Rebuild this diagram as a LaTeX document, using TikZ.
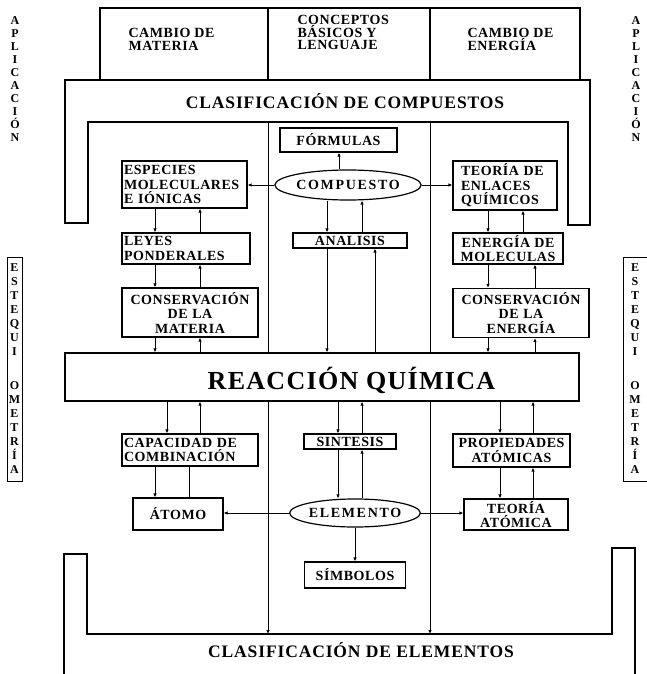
\documentclass[tikz,border=0pt]{standalone}
\usepackage{fontspec}
\setmainfont{Liberation Serif}
\newfontfamily\boxfont{Liberation Serif}[LetterSpace=4]
\newfontfamily\ovalfont{Liberation Serif}[LetterSpace=12]
\newfontfamily\titlefont{Liberation Serif}[LetterSpace=5]
\usetikzlibrary{shapes.geometric,arrows.meta}

\begin{document}
\begin{tikzpicture}[x=1pt,y=-1pt,line width=1pt,
  cbox/.style={draw,line width=1.2pt,fill=white,inner sep=2pt,
               font=\boxfont\bfseries\fontsize{14}{14.5}\selectfont},
  oval/.style={draw,ellipse,line width=1.2pt,fill=white,inner sep=0pt,
               font=\ovalfont\bfseries\fontsize{14}{14.5}\selectfont},
  band/.style={draw,line width=1.3pt},
  tag/.style={font=\boxfont\bfseries\fontsize{14}{12.5}\selectfont,
              align=left,anchor=north west,inner sep=0pt},
  ttl/.style={font=\titlefont\bfseries\fontsize{17.5}{20}\selectfont,inner sep=0pt},
  vtxt/.style={font=\bfseries\fontsize{12}{13}\selectfont,align=center,inner sep=0pt},
  stq/.style={draw,line width=1pt,align=center,inner sep=0pt,minimum height=224,
              font=\bfseries\fontsize{12}{14}\selectfont},
  arrw/.style={-{Latex[length=4pt,width=3.5pt]}}]
\useasboundingbox (0,0) rectangle (647,674);

% header row
\draw[band] (100,8) rectangle (580,80);
\draw[band] (268,8) -- (268,80) (430,8) -- (430,80);
\node[tag] (cmat) at (128,28) {CAMBIO DE\\MATERIA};
\node[tag] (conc) at (297,15) {CONCEPTOS\\BÁSICOS Y\\LENGUAJE};
\node[tag] (cene) at (467,28) {CAMBIO DE\\ENERGÍA};

% the two classification bands
\draw[band] (65,223) -- (65,80) -- (590,80) -- (590,225) -- (568,225)
  -- (568,122) -- (88,122) -- (88,223) -- cycle;
\node[ttl] (ccomp) at (345,101) {CLASIFICACIÓN DE COMPUESTOS};
\draw[band] (64,674) -- (64,554) -- (87,554) -- (87,634) -- (612,634)
  -- (612,548) -- (635,548) -- (635,674);
\node[ttl] (celem) at (361,650) {CLASIFICACIÓN DE ELEMENTOS};

% side labels
\node[vtxt] (aplizq) at (15,79) {A\\P\\L\\I\\C\\A\\C\\I\\Ó\\N};
\node[vtxt] (aplder) at (636,79) {A\\P\\L\\I\\C\\A\\C\\I\\Ó\\N};
\node[stq,minimum width=15] (estizq) at (14.5,369)
  {E\\S\\T\\E\\Q\\U\\I\\[20pt]O\\M\\E\\T\\R\\Í\\A};
\node[stq,minimum width=24] (estder) at (635,369)
  {E\\S\\T\\E\\Q\\U\\I\\[20pt]O\\M\\E\\T\\R\\Í\\A};

% columns
\coordinate (ctop) at (0,122);
\coordinate (cbot) at (0,634);
\coordinate (va) at (268,0);
\coordinate (vb) at (430,0);
\coordinate (l1) at (155,0);
\coordinate (l2) at (200,0);
\coordinate (l3) at (167,0);
\coordinate (l4) at (189,0);
\coordinate (m1) at (327,0);
\coordinate (m2) at (362,0);
\coordinate (m3) at (375,0);
\coordinate (m4) at (338,0);
\coordinate (m5) at (339,0);
\coordinate (r1) at (488,0);
\coordinate (r2) at (523,0);
\coordinate (r3) at (535,0);
\coordinate (r4) at (500,0);
\coordinate (r5) at (533,0);
\draw[arrw] (va |- ctop) -- (va |- cbot);
\draw[arrw] (vb |- ctop) -- (vb |- cbot);

% nodes
\node[cbox,minimum width=117,minimum height=24] (formulas) at (338.5,140) {FÓRMULAS};
\node[oval,minimum width=140,minimum height=30] (compuesto) at (348,185) {COMPUESTO};
\node[cbox,align=left,text width=121,minimum height=47] (especies) at (184.5,184.5)
  {ESPECIES\\MOLECULARES\\E IÓNICAS};
\node[cbox,align=left,inner xsep=8pt,text width=88,minimum height=49] (teoriaenl) at (505,185.5)
  {TEORÍA DE\\ENLACES\\QUÍMICOS};
\node[cbox,minimum width=114,minimum height=15,inner ysep=1pt] (analisis) at (350,240.5) {ANALISIS};
\node[cbox,align=left,text width=124,minimum height=31] (leyes) at (186,248.5) {LEYES\\PONDERALES};
\node[cbox,align=center,minimum width=110,minimum height=31] (energia) at (508,248.5)
  {ENERGÍA DE\\MOLECULAS};
\node[cbox,align=center,text width=132,minimum height=49] (consmat) at (190,312.5)
  {CONSERVACIÓN\\DE LA\\MATERIA};
\node[cbox,align=center,text width=132,minimum height=49] (consen) at (521,313)
  {CONSERVACIÓN\\DE LA\\ENERGÍA};
\node[cbox,minimum width=514,minimum height=48] (reaccion) at (322,377) {};
\node[font=\titlefont\bfseries\fontsize{26}{30}\selectfont,inner sep=0pt] (reacttl) at (351.5,380)
  {REACCIÓN QUÍMICA};
\node[cbox,align=left,text width=132,minimum height=32] (capacidad) at (190,450)
  {CAPACIDAD DE\\COMBINACIÓN};
\node[cbox,minimum width=92,minimum height=15,inner ysep=1pt] (sintesis) at (350,441.5) {SINTESIS};
\node[cbox,align=center,minimum width=117,minimum height=33] (propiedades) at (511.5,450.5)
  {PROPIEDADES\\ATÓMICAS};
\node[cbox,minimum width=90,minimum height=32] (atomo) at (178,514) {ÁTOMO};
\node[oval,minimum width=128,minimum height=28] (elemento) at (355,513) {ELEMENTO};
\node[cbox,align=center,minimum width=104,minimum height=31] (teoriaat) at (516,514.5)
  {TEORÍA\\ATÓMICA};
\node[cbox,minimum width=101,minimum height=26] (simbolos) at (355,575) {SÍMBOLOS};

% compuesto
\draw[arrw] (m5 |- compuesto.north) -- (m5 |- formulas.south);
\draw[arrw] (compuesto.west) -- (especies.east |- compuesto.west);
\draw[arrw] (compuesto.east) -- (teoriaenl.west |- compuesto.east);
\draw[arrw] (m1 |- compuesto.south) -- (m1 |- analisis.north);
\draw[arrw] (m2 |- analisis.north) -- (m2 |- compuesto.south);
\draw[arrw] (m1 |- analisis.south) -- (m1 |- reaccion.north);
\draw[arrw] (m3 |- reaccion.north) -- (m3 |- analisis.south);
% left column
\draw[arrw] (l1 |- especies.south) -- (l1 |- leyes.north);
\draw[arrw] (l2 |- leyes.north) -- (l2 |- especies.south);
\draw[arrw] (l1 |- leyes.south) -- (l1 |- consmat.north);
\draw[arrw] (l2 |- consmat.north) -- (l2 |- leyes.south);
\draw[arrw] (l1 |- consmat.south) -- (l1 |- reaccion.north);
\draw[arrw] (l2 |- reaccion.north) -- (l2 |- consmat.south);
\draw[arrw] (l3 |- reaccion.south) -- (l3 |- capacidad.north);
\draw[arrw] (l2 |- capacidad.north) -- (l2 |- reaccion.south);
\draw[arrw] (l1 |- capacidad.south) -- (l1 |- atomo.north);
\draw (l4 |- atomo.north) -- (l4 |- capacidad.south);
% elemento
\draw[arrw] (m4 |- reaccion.south) -- (m4 |- sintesis.north);
\draw[arrw] (m2 |- sintesis.north) -- (m2 |- reaccion.south);
\draw[arrw] (m4 |- sintesis.south) -- (m4 |- elemento.north);
\draw[arrw] (m2 |- elemento.north) -- (m2 |- sintesis.south);
\draw[arrw] (elemento.west) -- (atomo.east |- elemento.west);
\draw[arrw] (elemento.east) -- (teoriaat.west |- elemento.east);
\draw[arrw] (elemento.south) -- (simbolos.north);
% right column
\draw[arrw] (r1 |- teoriaenl.south) -- (r1 |- energia.north);
\draw[arrw] (r2 |- energia.north) -- (r2 |- teoriaenl.south);
\draw[arrw] (r1 |- energia.south) -- (r1 |- consen.north);
\draw[arrw] (r3 |- consen.north) -- (r3 |- energia.south);
\draw[arrw] (r1 |- consen.south) -- (r1 |- reaccion.north);
\draw[arrw] (r3 |- reaccion.north) -- (r3 |- consen.south);
\draw[arrw] (r4 |- reaccion.south) -- (r4 |- propiedades.north);
\draw[arrw] (r5 |- propiedades.north) -- (r5 |- reaccion.south);
\draw[arrw] (r4 |- propiedades.south) -- (r4 |- teoriaat.north);
\draw[arrw] (r5 |- teoriaat.north) -- (r5 |- propiedades.south);
\end{tikzpicture}
\end{document}
